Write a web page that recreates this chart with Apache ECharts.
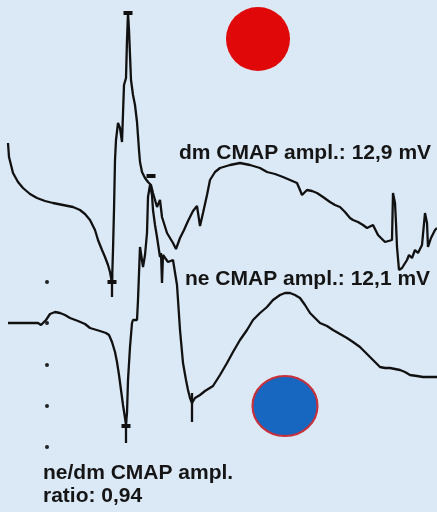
<!DOCTYPE html>
<html>
<head>
<meta charset="utf-8">
<script src="https://cdn.jsdelivr.net/npm/echarts@6/dist/echarts.min.js"></script>
<style>
html,body{margin:0;padding:0;background:#dbe9f6;}
#chart{width:437px;height:512px;}
</style>
</head>
<body>
<div id="chart"></div>
<script>
// time in ms, amplitude in mV (negative-up display, inverted axis)
var dmTrace = [[0.8,7.15],[0.9,7.85],[1.3,8.65],[1.8,9.1],[2.3,9.4],[3.0,9.7],[3.7,9.9],[4.5,10.05],[5.3,10.15],[6.3,10.25],[7.3,10.35],[8.0,10.5],[8.5,10.7],[9.0,11.0],[9.5,11.5],[9.8,12.0],[10.2,12.5],[10.5,12.85],[10.8,13.25],[11.0,13.6],[11.2,14.15],[11.3,12.5],[11.4,10.5],[11.5,8.0],[11.6,7.0],[11.8,6.15],[12.0,6.4],[12.2,7.1],[12.4,4.25],[12.6,3.9],[12.7,2.0],[12.8,0.65],[12.9,1.5],[13.1,4.0],[13.3,4.75],[13.5,5.25],[13.7,6.1],[13.9,7.5],[14.0,8.1],[14.2,8.6],[14.5,8.9],[14.8,9.1],[15.1,9.25],[15.3,9.65],[15.7,10.35],[16.0,10.0],[16.2,10.85],[16.7,11.65],[17.0,11.9],[17.3,12.15],[17.6,12.45],[18.0,11.9],[18.4,11.5],[18.8,11.05],[19.3,10.55],[19.7,10.3],[20.0,11.3],[20.3,10.65],[20.7,9.75],[21.0,9.0],[21.5,8.6],[22.0,8.4],[23.0,8.25],[24.0,8.15],[25.0,8.25],[26.0,8.4],[26.7,8.6],[27.5,8.7],[28.3,8.85],[29.0,9.0],[29.7,9.15],[30.0,9.5],[30.2,9.75],[30.7,9.5],[31.2,9.55],[31.7,9.65],[32.3,9.85],[33.0,10.1],[33.5,10.25],[34.0,10.35],[34.5,10.6],[35.0,10.9],[35.3,11.0],[35.8,11.1],[36.3,11.25],[36.7,11.4],[37.3,11.25],[37.8,11.75],[38.5,12.1],[39.2,12.0],[39.3,9.65],[39.5,10.15],[39.6,11.15],[39.7,12.35],[39.9,13.5],[40.2,13.4],[40.7,13.0],[40.9,12.75],[41.2,12.9],[41.5,12.5],[41.8,12.65],[42.2,12.25],[42.5,10.65],[42.7,11.15],[42.8,12.35],[43.1,11.9],[43.3,11.85],[43.5,11.5],[43.7,11.4]];

var neTrace = [[0.8,16.15],[2.0,16.15],[3.8,16.15],[4.1,16.25],[4.3,16.3],[4.6,16.0],[5.0,15.7],[5.5,15.6],[6.0,15.65],[6.5,15.75],[7.0,15.9],[7.8,16.05],[8.5,16.2],[9.0,16.4],[10.0,16.55],[10.6,16.65],[10.9,16.75],[11.2,17.1],[11.5,17.6],[11.7,18.1],[11.9,18.75],[12.1,19.5],[12.3,20.25],[12.5,20.9],[12.6,21.2],[12.7,20.65],[12.8,19.0],[13.0,17.35],[13.2,16.15],[13.3,16.0],[13.7,16.0],[13.8,15.0],[14.0,12.35],[14.3,13.35],[14.5,12.75],[14.7,11.65],[14.8,9.85],[15.0,9.25],[15.1,9.15],[15.2,9.75],[15.3,10.5],[15.5,11.25],[15.7,11.85],[16.0,12.85],[16.1,12.65],[16.2,14.15],[16.3,12.75],[16.5,12.65],[16.8,13.1],[17.3,13.0],[17.5,13.05],[17.7,14.25],[17.8,15.0],[18.0,16.5],[18.3,18.15],[18.6,19.0],[18.8,19.5],[19.0,19.9],[19.2,20.15],[19.5,19.9],[20.0,19.75],[20.5,19.55],[21.3,19.3],[22.0,18.75],[22.7,18.15],[23.3,17.6],[24.0,17.0],[24.7,16.5],[25.3,16.0],[26.0,15.65],[26.7,15.35],[27.3,15.0],[28.0,14.75],[28.5,14.65],[29.0,14.65],[29.5,14.75],[30.0,14.9],[30.5,15.25],[31.0,15.65],[31.5,15.9],[32.0,16.15],[32.7,16.3],[33.3,16.5],[34.0,16.7],[34.7,16.9],[35.3,17.1],[36.0,17.35],[36.5,17.6],[37.0,17.85],[37.5,18.1],[38.0,18.35],[38.5,18.4],[39.0,18.4],[39.5,18.45],[40.0,18.5],[40.5,18.6],[41.0,18.75],[41.7,18.8],[42.3,18.85],[43.0,18.85],[43.7,18.85]];

// peak / trough cursor bars and tick lines [t, from, to]
var cursorBars = [[12.8,0.65],[11.2,14.1],[15.1,8.8],[12.6,21.3]];
var cursorTicks = [[11.2,13.75,14.85],[12.6,21.0,22.15],[19.2,19.65,21.1]];

// calibration dots
var calDotTime = 4.7;
var calDots = [14.1,16.15,18.25,20.3,22.35];

// indicator circles
var redDot = [25.8,1.95];
var blueDot = [28.5,20.3];

var labels = [
  {text:'dm CMAP ampl.: 12,9 mV', x:179, y:153},
  {text:'ne CMAP ampl.: 12,1 mV', x:185, y:279},
  {text:'ne/dm CMAP ampl.', x:43, y:473},
  {text:'ratio: 0,94', x:43, y:496}
];

var chart = echarts.init(document.getElementById('chart'));
var lineColor = '#111111';
var series = [
  {type:'line', data:dmTrace, showSymbol:false, symbol:'none', lineStyle:{color:lineColor,width:2.3}, silent:true, z:3},
  {type:'line', data:neTrace, showSymbol:false, symbol:'none', lineStyle:{color:lineColor,width:2.3}, silent:true, z:3},
  {type:'scatter', data:cursorBars, symbol:'rect', symbolSize:[9,4], itemStyle:{color:lineColor, opacity:1}, z:4},
  {type:'scatter', data:calDots.map(function(v){return [calDotTime,v];}), symbol:'circle', symbolSize:4, itemStyle:{color:'#222', opacity:1}, z:4},
  {type:'scatter', data:[redDot], symbol:'circle', symbolSize:64, itemStyle:{color:'#e00808', opacity:1}, z:2},
  {type:'scatter', data:[blueDot], symbol:'circle', symbolSize:[65,60], itemStyle:{color:'#1766c0', borderColor:'#c8303a', borderWidth:2, opacity:1}, z:2}
];
cursorTicks.forEach(function(t){
  series.push({type:'line', data:[[t[0],t[1]],[t[0],t[2]]], symbol:'none', lineStyle:{color:lineColor,width:2.3}, silent:true, z:4});
});

chart.setOption({
  backgroundColor:'#dbe9f6',
  animation:false,
  grid:{left:0,right:0,top:0,bottom:0},
  xAxis:{type:'value', min:0, max:43.7, show:false},
  yAxis:{type:'value', min:0, max:25.6, inverse:true, show:false},
  series:series,
  graphic:labels.map(function(l){
    return {type:'text', x:l.x, y:l.y, z:10, style:{text:l.text, fill:'#151515', font:'bold 21px "Liberation Sans", Arial, sans-serif', verticalAlign:'middle', align:'left'}};
  })
});
</script>
</body>
</html>
